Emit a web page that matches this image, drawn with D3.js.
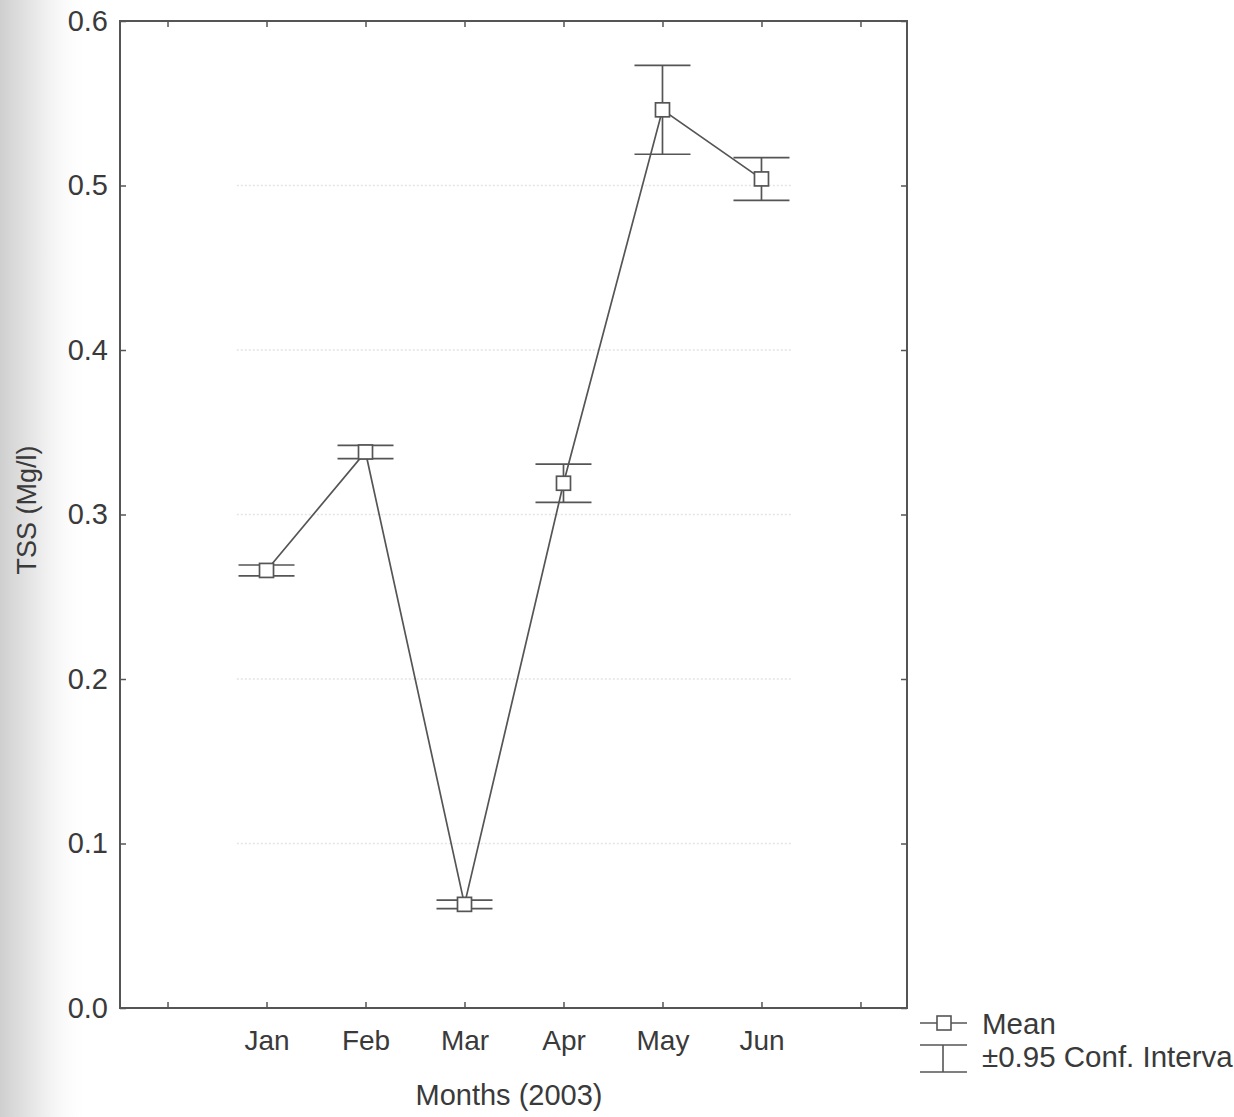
<!DOCTYPE html>
<html>
<head>
<meta charset="utf-8">
<script src="https://cdn.jsdelivr.net/npm/d3@7"></script>
<style>
  html, body { margin: 0; padding: 0; background: #fff; }
  svg { display: block; }
  text { font-family: "Liberation Sans", Arial, sans-serif; fill: #3a3a3a; }
</style>
</head>
<body>
<svg id="chart" width="1234" height="1117"></svg>
<script>
// Monthly TSS means with 95% confidence half-widths
const months = ["Jan", "Feb", "Mar", "Apr", "May", "Jun"];
const meanTSS = [0.266, 0.338, 0.063, 0.319, 0.546, 0.504];
const ciHalf = [0.0033, 0.004, 0.0026, 0.0116, 0.027, 0.013];
const yTicks = [0.0, 0.1, 0.2, 0.3, 0.4, 0.5, 0.6];
const xTickIdx = [0, 1, 2, 3, 4, 5, 6, 7];
const gridVals = [0.1, 0.2, 0.3, 0.4, 0.5];

(function () {
const svg = d3.select("#chart");
const W = 1234, H = 1117;
const mLeft = 120, mRight = 907, mTop = 21, mBottom = 1008;
const ink = "#555";

// faint scan shading along the left margin
const defs = svg.append("defs");
const grad = defs.append("linearGradient").attr("id", "shade").attr("x1", 0).attr("x2", 1);
grad.append("stop").attr("offset", 0).attr("stop-color", "#cfcfcf");
grad.append("stop").attr("offset", 0.45).attr("stop-color", "#ececec");
grad.append("stop").attr("offset", 1).attr("stop-color", "#fff").attr("stop-opacity", 0);
svg.append("rect").attr("x", 0).attr("y", 0).attr("width", 90).attr("height", H).attr("fill", "url(#shade)");

const x = d3.scaleLinear().domain([-0.48, 7.47]).range([mLeft, mRight]);
const y = d3.scaleLinear().domain([0, 0.6]).range([mBottom, mTop]);

// faint dotted gridlines
svg.append("g").selectAll("line").data(gridVals).join("line")
  .attr("x1", x(0.7)).attr("x2", x(6.3))
  .attr("y1", d => y(d)).attr("y2", d => y(d))
  .attr("stroke", "#e4e4e4").attr("stroke-width", 1.5)
  .attr("stroke-dasharray", "2,2");

// frame
svg.append("rect").attr("x", mLeft).attr("y", mTop)
  .attr("width", mRight - mLeft).attr("height", mBottom - mTop)
  .attr("fill", "none").attr("stroke", ink).attr("stroke-width", 2);

// axes with inward ticks
const yAxisL = d3.axisLeft(y).tickValues(yTicks).tickFormat(d3.format(".1f")).tickSizeInner(-6).tickSizeOuter(0).tickPadding(12);
const gy = svg.append("g").attr("transform", `translate(${mLeft},0)`).call(yAxisL);
gy.select(".domain").remove();
gy.selectAll("line").attr("stroke", ink).attr("stroke-width", 1.5);
gy.selectAll("text").attr("font-size", 29).style("fill", "#3a3a3a");

const yAxisR = d3.axisRight(y).tickValues(yTicks).tickSizeInner(-6).tickSizeOuter(0).tickFormat("");
const gyr = svg.append("g").attr("transform", `translate(${mRight},0)`).call(yAxisR);
gyr.select(".domain").remove();
gyr.selectAll("line").attr("stroke", ink).attr("stroke-width", 1.5);

const xAxisB = d3.axisBottom(x).tickValues(xTickIdx)
  .tickFormat(i => months[i - 1] || "").tickSizeInner(-6).tickSizeOuter(0).tickPadding(22);
const gx = svg.append("g").attr("transform", `translate(0,${mBottom})`).call(xAxisB);
gx.select(".domain").remove();
gx.selectAll("line").attr("stroke", ink).attr("stroke-width", 1.5);
gx.selectAll("text").attr("font-size", 28).style("fill", "#3a3a3a");

const xAxisT = d3.axisTop(x).tickValues(xTickIdx).tickSizeInner(-6).tickSizeOuter(0).tickFormat("");
const gxt = svg.append("g").attr("transform", `translate(0,${mTop})`).call(xAxisT);
gxt.select(".domain").remove();
gxt.selectAll("line").attr("stroke", ink).attr("stroke-width", 1.5);

// axis titles
svg.append("text").attr("x", 509).attr("y", 1105)
  .attr("text-anchor", "middle").attr("font-size", 29).text("Months (2003)");
svg.append("text").attr("transform", `translate(36,510) rotate(-90)`)
  .attr("text-anchor", "middle").attr("font-size", 27).text("TSS (Mg/l)");

// data
const data = months.map((m, i) => ({ i: i + 1, m, v: meanTSS[i], e: ciHalf[i] }));
const capW = 28, box = 14;

svg.append("path").datum(data)
  .attr("d", d3.line().x(d => x(d.i)).y(d => y(d.v)))
  .attr("fill", "none").attr("stroke", ink).attr("stroke-width", 1.7);

const eb = svg.append("g").selectAll("g").data(data).join("g");
eb.append("line").attr("x1", d => x(d.i)).attr("x2", d => x(d.i))
  .attr("y1", d => y(d.v + d.e)).attr("y2", d => y(d.v - d.e))
  .attr("stroke", ink).attr("stroke-width", 1.7);
eb.append("line").attr("x1", d => x(d.i) - capW).attr("x2", d => x(d.i) + capW)
  .attr("y1", d => y(d.v + d.e)).attr("y2", d => y(d.v + d.e))
  .attr("stroke", ink).attr("stroke-width", 1.7);
eb.append("line").attr("x1", d => x(d.i) - capW).attr("x2", d => x(d.i) + capW)
  .attr("y1", d => y(d.v - d.e)).attr("y2", d => y(d.v - d.e))
  .attr("stroke", ink).attr("stroke-width", 1.7);
eb.append("rect").attr("x", d => x(d.i) - box / 2).attr("y", d => y(d.v) - box / 2)
  .attr("width", box).attr("height", box)
  .attr("fill", "#fff").attr("stroke", ink).attr("stroke-width", 1.7);

// legend
const lg = svg.append("g");
lg.append("line").attr("x1", 920).attr("x2", 967).attr("y1", 1023).attr("y2", 1023)
  .attr("stroke", ink).attr("stroke-width", 1.6);
lg.append("rect").attr("x", 937).attr("y", 1016).attr("width", 14).attr("height", 14)
  .attr("fill", "#fff").attr("stroke", ink).attr("stroke-width", 1.6);
lg.append("text").attr("x", 982).attr("y", 1034).attr("font-size", 29.5).text("Mean");

lg.append("line").attr("x1", 920).attr("x2", 967).attr("y1", 1045).attr("y2", 1045)
  .attr("stroke", ink).attr("stroke-width", 1.6);
lg.append("line").attr("x1", 920).attr("x2", 967).attr("y1", 1072).attr("y2", 1072)
  .attr("stroke", ink).attr("stroke-width", 1.6);
lg.append("line").attr("x1", 943).attr("x2", 943).attr("y1", 1045).attr("y2", 1072)
  .attr("stroke", ink).attr("stroke-width", 1.6);
lg.append("text").attr("x", 982).attr("y", 1067).attr("font-size", 29.5).text("±0.95 Conf. Interval");
})();
</script>
</body>
</html>
